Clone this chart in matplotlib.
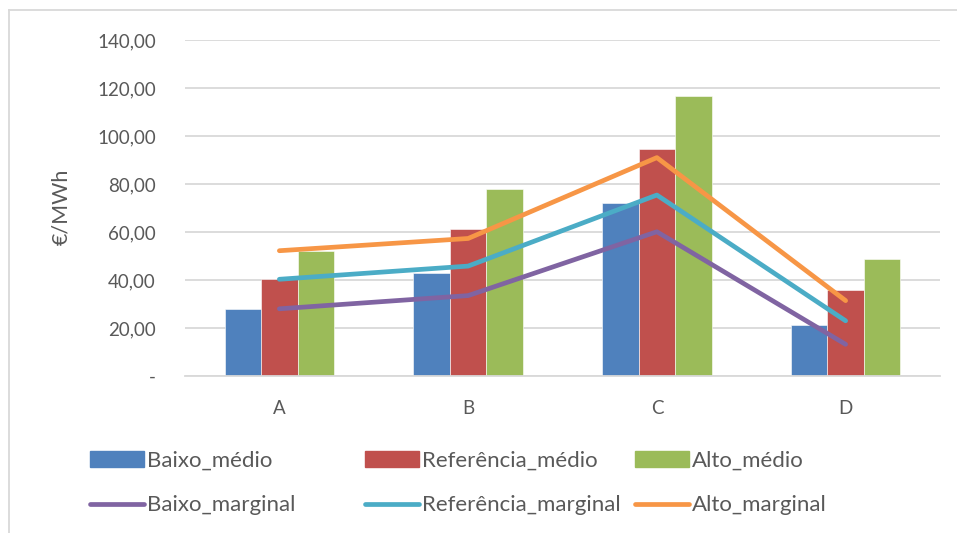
import numpy as np
import matplotlib.pyplot as plt
from matplotlib.lines import Line2D
from matplotlib.patches import Patch

categories = ['A', 'B', 'C', 'D']

baixo_medio = [27.9, 43.0, 71.9, 21.1]
ref_medio = [40.3, 61.3, 94.6, 36.0]
alto_medio = [52.2, 78.1, 116.7, 48.6]

baixo_marginal = [28.0, 33.5, 60.1, 13.2]
ref_marginal = [40.3, 45.8, 75.4, 23.0]
alto_marginal = [52.2, 57.3, 91.0, 31.4]

yticks = [0, 20, 40, 60, 80, 100, 120, 140]
ytick_labels = ['-', '20,00', '40,00', '60,00', '80,00', '100,00', '120,00', '140,00']

c_blue, c_red, c_green = '#4F81BD', '#C0504D', '#9BBB59'
c_purple, c_cyan, c_orange = '#8064A2', '#4BACC6', '#F79646'
txt = '#595959'

plt.rcParams['font.family'] = ['Lato', 'DejaVu Sans']

fig = plt.figure(figsize=(9.57, 5.33), dpi=100)
ax = fig.add_axes([185 / 957, 1 - 376 / 533, 755 / 957, 336 / 533])

x = np.arange(len(categories))
w = 0.193
ax.bar(x - w, baixo_medio, w, color=c_blue, edgecolor='white', linewidth=0.4, zorder=2)
ax.bar(x, ref_medio, w, color=c_red, edgecolor='white', linewidth=0.4, zorder=2)
ax.bar(x + w, alto_medio, w, color=c_green, edgecolor='white', linewidth=0.4, zorder=2)

lw = 3.4
for vals, col in [(baixo_marginal, c_purple), (ref_marginal, c_cyan), (alto_marginal, c_orange)]:
    ax.plot(x, vals, color=col, linewidth=lw, solid_capstyle='round',
            solid_joinstyle='round', zorder=3)

ax.set_xlim(-0.5, len(categories) - 0.5)
ax.set_ylim(0, 140)
ax.set_yticks(yticks)
ax.set_yticklabels(ytick_labels)
ax.set_xticks(x)
ax.set_xticklabels(categories)
ax.tick_params(axis='both', length=0, labelsize=13.5, colors=txt)
ax.tick_params(axis='y', pad=21)
ax.tick_params(axis='x', pad=17)
ax.grid(axis='y', color='#D9D9D9', linewidth=1.3, zorder=0)
ax.set_axisbelow(True)
for s in ['top', 'right', 'left']:
    ax.spines[s].set_visible(False)
ax.spines['bottom'].set_color('#D9D9D9')
ax.spines['bottom'].set_linewidth(1.3)

fig.text(61 / 957, 1 - 207 / 533, '€/MWh', rotation=90, ha='center', va='center',
         fontsize=15.5, color=txt)

# legend: three columns, bars on the top row, lines on the bottom row
cols = [
    (90, [('Baixo_médio', c_blue, 'bar'), ('Baixo_marginal', c_purple, 'line')]),
    (365, [('Referência_médio', c_red, 'bar'), ('Referência_marginal', c_cyan, 'line')]),
    (635, [('Alto_médio', c_green, 'bar'), ('Alto_marginal', c_orange, 'line')]),
]
for xpix, entries in cols:
    handles = []
    labels = []
    for lab, col, kind in entries:
        if kind == 'bar':
            handles.append(Patch(facecolor=col, edgecolor=col))
        else:
            handles.append(Line2D([0], [0], color=col, linewidth=lw, solid_capstyle='round'))
        labels.append(lab)
    leg = fig.legend(handles, labels, loc='upper left',
                     bbox_to_anchor=(xpix / 957, 1 - 451 / 533),
                     frameon=False, fontsize=16, labelcolor=txt,
                     handlelength=2.45, handleheight=0.7, handletextpad=0.12,
                     labelspacing=1.1, borderpad=0, borderaxespad=0)

# outer chart border (top and left edges)
fig.add_artist(Line2D([9 / 957, 1], [1 - 10 / 533, 1 - 10 / 533], color='#D9D9D9', linewidth=1.3))
fig.add_artist(Line2D([9 / 957, 9 / 957], [0, 1 - 10 / 533], color='#D9D9D9', linewidth=1.3))

fig.savefig('out.png', dpi=100, facecolor='white')
